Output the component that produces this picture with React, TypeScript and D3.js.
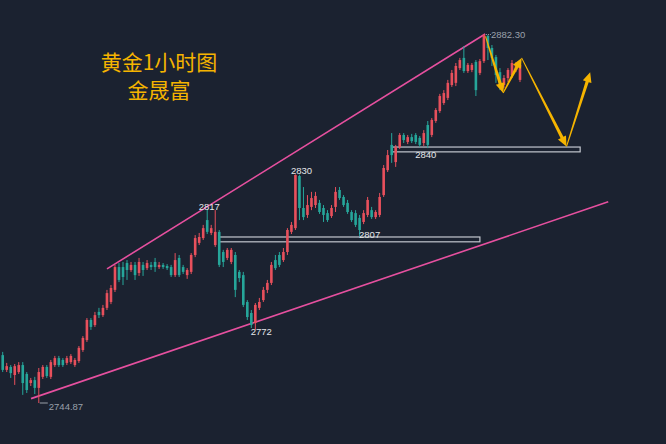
import React from "react";
import * as d3 from "d3";

const opens = [2762.7,2757.2,2758.3,2755.3,2756.4,2759.0,2755.7,2752.3,2753.4,2750.5,2754.6,2758.3,2754.6,2759.0,2761.6,2760.9,2759.8,2760.1,2759.0,2760.5,2764.6,2768.3,2775.8,2773.9,2778.8,2777.6,2780.3,2782.5,2787.0,2795.5,2795.5,2797.0,
2794.4,2796.3,2793.3,2796.3,2795.1,2796.3,2797.4,2795.5,2796.3,2795.9,2795.5,2792.5,2798.9,2795.5,2792.5,2793.7,2800.0,2804.5,2806.3,2813.0,2808.2,2803.7,2808.6,2801.1,2798.9,2797.4,2800.0,2793.7,2792.5,2782.5,2778.4,2774.7,
2780.3,2783.2,2787.0,2789.6,2798.1,2800.0,2798.1,2801.1,2808.6,2810.0,2829.4,2817.5,2814.9,2817.9,2818.6,2819.4,2817.5,2815.6,2814.5,2817.9,2824.2,2821.6,2819.4,2816.0,2815.6,2813.8,2812.3,2814.9,2816.7,2814.1,2814.9,2822.3,
2831.6,2841.0,2834.6,2840.2,2844.7,2842.1,2843.9,2844.7,2843.6,2841.7,2848.4,2844.7,2849.9,2853.6,2856.6,2858.5,2863.3,2864.1,2869.6,2873.4,2868.5,2868.9,2871.9,2867.8,2872.2,2881.6,2877.1,2873.7,2868.1,2863.3,2865.9,2867.0,2868.9,2865.2];
const closes = [2757.2,2758.6,2756.0,2758.6,2759.0,2752.3,2749.7,2753.4,2750.5,2756.4,2758.3,2754.9,2760.1,2761.6,2759.0,2759.0,2761.6,2762.4,2760.9,2765.4,2769.1,2775.8,2773.2,2777.6,2777.6,2780.3,2785.8,2787.7,2795.5,2790.7,2791.8,2794.4,
2796.3,2792.5,2797.4,2794.4,2797.0,2795.5,2795.5,2796.3,2795.5,2795.1,2792.5,2798.1,2792.5,2793.7,2794.4,2800.0,2806.3,2806.7,2810.0,2808.6,2810.0,2808.6,2796.3,2797.4,2801.9,2801.9,2787.0,2791.4,2781.4,2776.9,2773.9,2781.4,
2782.5,2787.0,2789.6,2796.3,2795.1,2796.3,2801.1,2809.3,2811.2,2829.8,2817.5,2814.1,2818.6,2821.2,2822.0,2816.0,2814.9,2813.0,2817.5,2823.5,2821.2,2818.6,2816.0,2813.0,2811.2,2809.3,2815.6,2820.5,2814.1,2816.0,2821.6,2832.4,
2837.2,2837.2,2840.2,2844.7,2842.8,2843.9,2842.4,2842.1,2841.0,2845.4,2841.0,2850.3,2854.0,2859.2,2860.3,2864.1,2867.8,2870.4,2872.6,2868.5,2870.8,2870.8,2861.4,2872.2,2881.9,2877.1,2873.4,2867.0,2863.3,2865.9,2868.9,2871.5,2870.8,2870.8];
const highs = [2763.9,2759.8,2759.0,2759.4,2760.1,2760.1,2756.4,2754.2,2754.6,2757.9,2759.0,2759.0,2760.9,2762.4,2762.4,2761.6,2762.4,2763.1,2761.6,2766.1,2769.8,2776.5,2776.5,2778.8,2780.3,2781.4,2787.0,2788.8,2796.3,2797.0,2797.4,2798.1,
2797.4,2797.4,2798.9,2797.4,2798.1,2797.4,2798.9,2797.4,2797.0,2796.6,2796.3,2800.7,2800.0,2796.3,2795.1,2800.7,2807.4,2808.2,2811.2,2817.0,2811.2,2816.7,2809.3,2801.9,2802.6,2802.6,2801.1,2794.4,2793.7,2783.2,2779.5,2782.1,
2784.0,2788.1,2790.7,2797.4,2800.0,2801.1,2802.6,2810.0,2812.3,2830.0,2829.9,2825.3,2822.3,2823.5,2823.5,2820.5,2818.6,2816.7,2818.6,2825.3,2825.3,2822.3,2820.5,2816.7,2816.7,2814.9,2816.7,2821.6,2817.9,2816.7,2823.1,2833.5,
2839.1,2845.4,2841.0,2845.4,2845.4,2844.7,2845.1,2845.4,2844.3,2846.5,2849.9,2851.0,2854.7,2860.0,2861.4,2865.2,2868.9,2871.5,2873.4,2877.8,2871.5,2871.5,2872.6,2873.0,2882.3,2881.9,2878.2,2874.5,2869.6,2867.0,2869.6,2872.6,2871.9,2871.5];
const lows = [2756.4,2756.4,2754.2,2751.6,2755.7,2747.9,2748.6,2751.2,2748.2,2744.87,2753.8,2754.2,2753.8,2758.3,2758.3,2758.3,2759.0,2759.4,2758.3,2759.8,2763.9,2767.6,2772.1,2773.2,2776.5,2776.9,2779.5,2781.7,2786.2,2789.9,2788.8,2790.7,
2793.7,2790.7,2792.2,2792.2,2794.4,2794.4,2793.7,2794.8,2794.8,2794.4,2791.8,2791.8,2791.8,2792.9,2791.1,2792.9,2799.2,2803.7,2805.6,2807.8,2807.4,2803.0,2795.5,2795.5,2798.1,2796.6,2784.3,2789.9,2780.6,2775.8,2772.8,2772.0,
2779.5,2782.5,2785.8,2788.8,2794.4,2795.5,2797.4,2800.0,2807.8,2809.3,2813.0,2813.0,2813.8,2816.7,2817.5,2815.3,2812.3,2812.3,2813.8,2816.0,2820.5,2817.9,2815.3,2812.3,2810.4,2807.0,2811.5,2814.1,2813.4,2813.4,2814.1,2821.6,
2830.9,2834.3,2832.8,2839.5,2841.7,2841.3,2841.7,2841.3,2840.2,2840.6,2839.8,2843.9,2849.2,2852.9,2855.9,2857.7,2862.6,2862.9,2868.9,2867.8,2867.8,2868.1,2859.2,2867.0,2871.5,2872.6,2870.4,2864.1,2861.4,2862.2,2864.4,2865.9,2868.1,2864.4];

// annotations in (candle index, price)
const upperTrend = [[26, 2794.8], [120.3, 2882.3]];
const lowerTrend = [[7.06, 2746.5], [151, 2819.8]];
const zoneBoxes = [
  { i0: 54, i1: 119, top: 2806.7, bottom: 2804.9 },
  { i0: 97, i1: 144, top: 2840.2, bottom: 2838.4 },
];
const wavePath = [[120.4, 2881.4], [124.8, 2860.3], [129.4, 2873.4], [140.6, 2840.4], [146.5, 2868.1]];
const pointLabels = [
  { i: 51.5, p: 2817, text: "2817", dy: 0.5 },
  { i: 74.5, p: 2830, text: "2830", dy: -0.5 },
  { i: 91.5, p: 2807, text: "2807", dy: 1.5 },
  { i: 105.5, p: 2840, text: "2840", dy: 10.5 },
  { i: 64.5, p: 2772, text: "2772", dy: 5 },
];
const titleLines = ["黄金1小时图", "金晟富"];

const W = 666, H = 444;
const BG = "#1b2230";
const UP = "#e8505c";
const DOWN = "#26a69a";
const PINK = "#e6509f";
const GOLD = "#f5b400";

function arrowPoly(x0: number, y0: number, x1: number, y1: number) {
  const dx = x1 - x0, dy = y1 - y0;
  const L = Math.hypot(dx, dy);
  const ux = dx / L, uy = dy / L;
  const nx = -uy, ny = ux;
  const hl = 10, hw = 4.5, w0 = 1.0, w1 = 3.2;
  const bx = x1 - ux * hl, by = y1 - uy * hl;
  const pts = [
    [x0 + nx * w0 / 2, y0 + ny * w0 / 2],
    [bx + nx * w1 / 2, by + ny * w1 / 2],
    [bx + nx * hw, by + ny * hw],
    [x1, y1],
    [bx - nx * hw, by - ny * hw],
    [bx - nx * w1 / 2, by - ny * w1 / 2],
    [x0 - nx * w0 / 2, y0 - ny * w0 / 2],
  ];
  return pts.map((p) => p.join(",")).join(" ");
}

export default function App() {
  const x = d3.scaleLinear().domain([0, opens.length - 1]).range([2.7, 520]);
  const y = d3.scaleLinear().domain([2744.87, 2882.3]).range([403, 34]);
  const bw = 2.6;
  const line = d3.line<number[]>().x((d) => x(d[0])).y((d) => y(d[1]));
  const hiIdx = d3.maxIndex(highs);
  const loIdx = d3.minIndex(lows);
  const wp = wavePath.map((d) => [x(d[0]), y(d[1])]);
  const labelFont = "'Liberation Sans', Arial, sans-serif";

  return (
    <div style={{ position: "fixed", left: 0, top: 0 }}>
      <svg width={W} height={H} style={{ display: "block", background: BG }}>
        <rect width={W} height={H} fill={BG} />
        {titleLines.map((t, k) => (
          <text key={k} x={159} y={70 + k * 28} textAnchor="middle" fill={GOLD}
            fontSize={21} fontFamily="'Noto Sans CJK SC', sans-serif">{t}</text>
        ))}
        <path d={line(upperTrend as any) || ""} stroke={PINK} strokeWidth={1.6} fill="none" />
        <path d={line(lowerTrend as any) || ""} stroke={PINK} strokeWidth={1.6} fill="none" />
        {zoneBoxes.map((b, k) => (
          <rect key={k} x={x(b.i0)} y={y(b.top)} width={x(b.i1) - x(b.i0)} height={y(b.bottom) - y(b.top)}
            fill={BG} stroke="#c3c7cf" strokeWidth={1.2} />
        ))}
        {opens.map((o, i) => {
          const c = closes[i];
          const up = c >= o;
          const col = up ? UP : DOWN;
          const cx = x(i);
          const top = y(Math.max(o, c));
          const h = Math.max(1, Math.abs(y(o) - y(c)));
          return (
            <g key={i}>
              <line x1={cx} x2={cx} y1={y(highs[i])} y2={y(lows[i])} stroke={col} strokeWidth={1} />
              <rect x={cx - bw / 2} y={top} width={bw} height={h} fill={col} />
            </g>
          );
        })}
        {/* high / low price markers */}
        <line x1={x(hiIdx) + 2} x2={x(hiIdx) + 7} y1={y(highs[hiIdx]) + 0.5} y2={y(highs[hiIdx]) + 0.5}
          stroke="#9aa0aa" strokeWidth={1} strokeDasharray="1,1" />
        <text x={x(hiIdx) + 7} y={y(highs[hiIdx]) + 3.5} fill="#9aa0aa" fontSize={9.5} fontFamily={labelFont}>
          {highs[hiIdx].toFixed(2)}
        </text>
        <line x1={x(loIdx) + 1} x2={x(loIdx) + 9} y1={y(lows[loIdx])} y2={y(lows[loIdx])}
          stroke="#9aa0aa" strokeWidth={1} />
        <text x={x(loIdx) + 10} y={y(lows[loIdx]) + 7} fill="#9aa0aa" fontSize={9.5} fontFamily={labelFont}>
          {lows[loIdx].toFixed(2)}
        </text>
        {pointLabels.map((l, k) => (
          <text key={k} x={x(l.i)} y={y(l.p) + l.dy} textAnchor="middle" fill="#e4e6ea" fontSize={9.5}
            fontFamily={labelFont}>{l.text}</text>
        ))}
        {wp.slice(1).map((p, k) => (
          <polygon key={k} points={arrowPoly(wp[k][0], wp[k][1], p[0], p[1])} fill={GOLD} />
        ))}
      </svg>
    </div>
  );
}
